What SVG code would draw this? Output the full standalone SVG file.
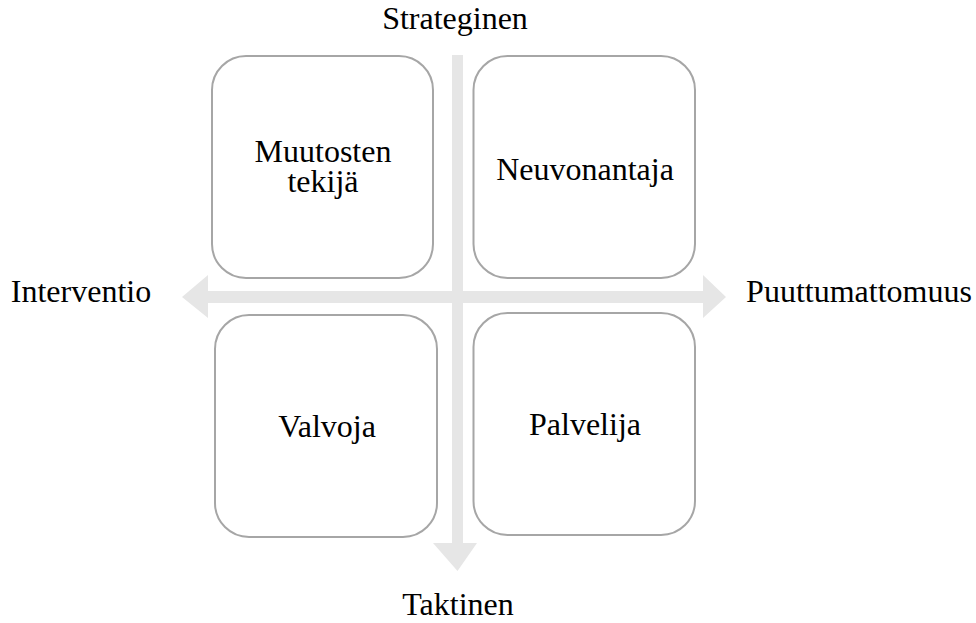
<svg xmlns="http://www.w3.org/2000/svg" width="976" height="623" viewBox="0 0 976 623">
  <style>
    .box { fill: #ffffff; stroke: #a6a6a6; stroke-width: 2; }
    .axis { fill: #e6e6e6; stroke: none; }
    text { font-family: "Liberation Serif", "Times New Roman", serif; font-size: 32px; fill: #000000; text-anchor: middle; }
  </style>
  <rect width="976" height="623" fill="#ffffff"/>

  <!-- axes -->
  <g id="connectors">
    <!-- horizontal double-headed arrow -->
    <path class="axis" d="M182,297 L208,275 L208,291 L703,291 L703,275 L726,297 L703,318 L703,303 L208,303 L208,318 Z"/>
    <!-- vertical arrow pointing down -->
    <path class="axis" d="M452,55 L463,55 L463,543 L477,543 L457.5,571 L433,543 L452,543 Z"/>
  </g>

  <!-- axis labels -->
  <g id="label-top"><text x="455" y="29">Strateginen</text></g>
  <g id="label-bottom"><text x="458" y="615">Taktinen</text></g>
  <g id="label-left"><text x="81" y="302">Interventio</text></g>
  <g id="label-right"><text x="859" y="302">Puuttumattomuus</text></g>

  <!-- quadrants -->
  <g id="node-muutosten-tekija">
    <rect class="box" x="212" y="56" width="221" height="222" rx="34" ry="34"/>
    <text x="323" y="162">Muutosten</text>
    <text x="323" y="192">tekijä</text>
  </g>
  <g id="node-neuvonantaja">
    <rect class="box" x="473.5" y="56" width="221.5" height="222" rx="34" ry="34"/>
    <text x="585" y="180">Neuvonantaja</text>
  </g>
  <g id="node-valvoja">
    <rect class="box" x="215" y="315" width="222" height="222" rx="34" ry="34"/>
    <text x="327" y="437">Valvoja</text>
  </g>
  <g id="node-palvelija">
    <rect class="box" x="473.5" y="313" width="221.5" height="222" rx="34" ry="34"/>
    <text x="585" y="435">Palvelija</text>
  </g>
</svg>
